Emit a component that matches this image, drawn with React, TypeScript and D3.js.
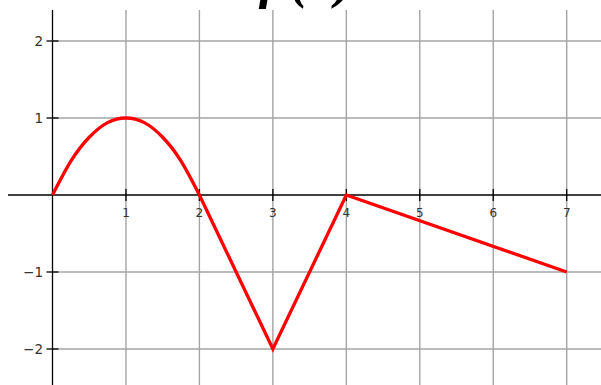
import React from 'react';
import * as d3 from 'd3';

// values
const curveX = [0, 0.25, 0.5, 0.75, 1, 1.25, 1.5, 1.75, 2];
const curveY = [0, 0.44, 0.75, 0.94, 1, 0.94, 0.75, 0.44, 0];
const segX = [2, 3, 4, 7];
const segY = [0, -2, 0, -1];
const xTicks = [1, 2, 3, 4, 5, 6, 7];
const yTicks = [-2, -1, 1, 2];
const gridX = [0, 1, 2, 3, 4, 5, 6, 7];
const title = 'f (x)';

const W = 601;
const H = 385;

const App = () => {
  const x = d3.scaleLinear().domain([0, 7]).range([52.5, 566.7]);
  const y = d3.scaleLinear().domain([-2, 2]).range([349, 41]);
  const top = 10;

  const curvePts = curveX.map((v, i) => [v, curveY[i]] as [number, number]);
  const segPts = segX.map((v, i) => [v, segY[i]] as [number, number]);
  const smooth = d3.line<[number, number]>().x(d => x(d[0])).y(d => y(d[1])).curve(d3.curveNatural)(curvePts) || '';
  const straight = d3.line<[number, number]>().x(d => x(d[0])).y(d => y(d[1]))(segPts) || '';

  const fmt = (v: number) => (v < 0 ? '\u2212' + Math.abs(v) : String(v));

  return (
    <svg width={W} height={H} style={{ position: 'absolute', left: 0, top: 0, background: '#fff' }}>
      {/* title sits mostly above the visible area, as in the original */}
      <text x={306} y={-3} textAnchor="middle" fontFamily="Liberation Serif" fontWeight="bold"
        fontStyle="italic" fontSize={54} fill="#000">{title}</text>

      {/* grid */}
      <g stroke="#a4a4a4" strokeWidth={1.4}>
        {gridX.slice(1).map(v => (
          <line key={'gx' + v} x1={x(v)} x2={x(v)} y1={top} y2={H} />
        ))}
        {yTicks.map(v => (
          <line key={'gy' + v} x1={x(0)} x2={W} y1={y(v)} y2={y(v)} />
        ))}
      </g>

      {/* axes */}
      <g stroke="#000" strokeWidth={1.3}>
        <line x1={8} x2={W} y1={y(0)} y2={y(0)} />
        <line x1={x(0)} x2={x(0)} y1={top} y2={H} />
        {xTicks.map(v => (
          <line key={'tx' + v} x1={x(v)} x2={x(v)} y1={y(0) - 6} y2={y(0) + 6} />
        ))}
        {yTicks.map(v => (
          <line key={'ty' + v} x1={x(0) - 6} x2={x(0) + 6} y1={y(v)} y2={y(v)} />
        ))}
      </g>

      {/* tick labels */}
      <g fontFamily="DejaVu Sans" fill="#333">
        {xTicks.map(v => (
          <text key={'lx' + v} x={x(v)} y={y(0) + 22} fontSize={12} textAnchor="middle">{fmt(v)}</text>
        ))}
        {yTicks.map(v => (
          <text key={'ly' + v} x={43} y={y(v)} fontSize={13.5} textAnchor="end" dominantBaseline="central">{fmt(v)}</text>
        ))}
      </g>

      {/* function */}
      <g fill="none" stroke="#ff0000" strokeWidth={3.3} strokeLinejoin="miter">
        <path d={smooth} />
        <path d={straight} />
      </g>
    </svg>
  );
};

export default App;
